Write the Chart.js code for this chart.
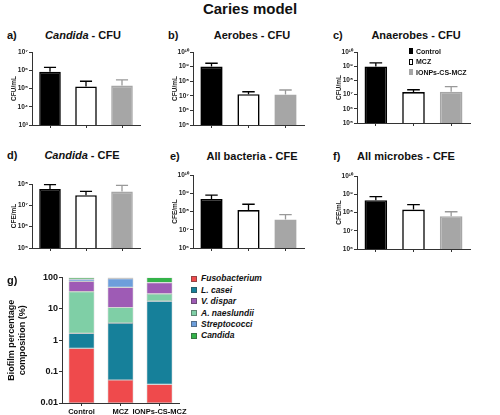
<!DOCTYPE html>
<html>
<head>
<meta charset="utf-8">
<script src="https://cdn.jsdelivr.net/npm/chart.js@4.4.1/dist/chart.umd.min.js"></script>
<style>
  html,body{margin:0;padding:0;background:#fff;}
  body{width:500px;height:415px;position:relative;overflow:hidden;font-family:"Liberation Sans",Arial,sans-serif;color:#111;}
  canvas{position:absolute;}
  .t{position:absolute;font-weight:bold;white-space:nowrap;line-height:1;}
  .leg{position:absolute;font-weight:bold;white-space:nowrap;line-height:1;}
  .leg .row{display:flex;align-items:center;}
  .leg .box{display:inline-block;box-sizing:border-box;}
</style>
</head>
<body>
<script>
// ---------------- DATA ----------------
const groups = ['Control', 'MCZ', 'IONPs-CS-MCZ'];

// panel a-f : bar height and upper end of the error bar
const candidaCFU      = [8.3e5, 1.3e5, 1.45e5];
const candidaCFUErr   = [1.45e6, 2.5e5, 3.0e5];
const aerobesCFU      = [1.0e9, 1.3e7, 1.25e7];
const aerobesCFUErr   = [1.7e9, 1.9e7, 2.5e7];
const anaerobesCFU    = [9.7e8, 1.5e7, 1.6e7];
const anaerobesCFUErr = [1.7e9, 2.2e7, 3.6e7];
const candidaCFE      = [5.8e7, 3.0e7, 4.4e7];
const candidaCFEErr   = [9.3e7, 4.5e7, 8.7e7];
const bacteriaCFE     = [4.9e8, 1.2e8, 3.7e7];
const bacteriaCFEErr  = [7.8e8, 2.5e8, 6.8e7];
const microbesCFE     = [4.7e8, 1.45e8, 6.3e7];
const microbesCFEErr  = [7.4e8, 2.7e8, 1.1e8];

// panel g : biofilm percentage composition (%), stacked bottom -> top
const fusobacterium = [0.55, 0.054, 0.039];
const lCasei        = [1.1, 3.45, 17.5];
const aNaeslundii   = [33.35, 7.5, 12.5];
const vDispar       = [40, 37, 38];
const streptococci  = [13, 43, 0.6];
const candidaPct    = [12, 9, 31.3];

const pctTicks = [0.01, 0.1, 1, 10, 100];
const pctTickLabels = ['0.01', '0.1', '1', '10', '100'];

// ---------------- STYLE ----------------
Chart.defaults.font.family = '"Liberation Sans", Arial, sans-serif';
Chart.defaults.color = '#222';
const AX = '#333';
const barFill = ['#000000', '#ffffff', '#a6a6a6'];
const barBorder = ['#000000', '#000000', '#a6a6a6'];
const errColor = ['#000000', '#000000', '#999999'];
const speciesColors = {
  'Fusobacterium': '#ef4a4c',
  'L. casei': '#16809a',
  'V. dispar': '#9e5bb5',
  'A. naeslundii': '#7fcfa6',
  'Streptococci': '#6d9edb',
  'Candida': '#34b34a'
};

const SUP = '⁰¹²³⁴⁵⁶⁷⁸⁹';
function supNum(n){ return String(n).split('').map(d => SUP[+d]).join(''); }
function powers(min, max){
  const out = [];
  for (let e = Math.round(Math.log10(min)); e <= Math.round(Math.log10(max)); e++) out.push(Math.pow(10, e));
  return out;
}

function addText(html, x, y, size, align, italic){
  const d = document.createElement('div');
  d.className = 't';
  d.innerHTML = html;
  d.style.fontSize = size + 'px';
  d.style.left = x + 'px';
  d.style.top = y + 'px';
  d.style.transform = align === 'center' ? 'translate(-50%,-50%)' : 'translate(0,-50%)';
  if (italic) d.style.fontStyle = 'italic';
  document.body.appendChild(d);
}

const errPlugin = {
  id: 'errbars',
  afterDatasetsDraw(chart, args, opts){
    if (!opts || !opts.errs) return;
    const meta = chart.getDatasetMeta(0);
    const ys = chart.scales.y;
    const ctx = chart.ctx;
    meta.data.forEach((el, i) => {
      const yTop = ys.getPixelForValue(opts.errs[i]);
      const half = el.width * 0.28;
      ctx.save();
      ctx.strokeStyle = opts.colors[i];
      ctx.lineWidth = 1.3;
      ctx.beginPath();
      ctx.moveTo(el.x, el.y);
      ctx.lineTo(el.x, yTop);
      ctx.moveTo(el.x - half, yTop);
      ctx.lineTo(el.x + half, yTop);
      ctx.stroke();
      ctx.restore();
    });
  }
};

function makeCanvas(left, top, w, h){
  const c = document.createElement('canvas');
  c.width = w; c.height = h;
  c.style.left = left + 'px'; c.style.top = top + 'px';
  c.style.width = w + 'px'; c.style.height = h + 'px';
  document.body.appendChild(c);
  return c;
}

// ---------------- PANELS a-f ----------------
const panels = [
  {vals: candidaCFU,   errs: candidaCFUErr,   min: 1e3, max: 1e7,  unit: 'CFU/mL', ax: 32,  top: 52,  bottom: 125, right: 140},
  {vals: aerobesCFU,   errs: aerobesCFUErr,   min: 1e5, max: 1e10, unit: 'CFU/mL', ax: 193, top: 52,  bottom: 125, right: 304},
  {vals: anaerobesCFU, errs: anaerobesCFUErr, min: 1e5, max: 1e10, unit: 'CFU/mL', ax: 357, top: 52,  bottom: 123, right: 470},
  {vals: candidaCFE,   errs: candidaCFEErr,   min: 1e5, max: 1e8,  unit: 'CFE/mL', ax: 32,  top: 184, bottom: 248, right: 140},
  {vals: bacteriaCFE,  errs: bacteriaCFEErr,  min: 1e6, max: 1e10, unit: 'CFE/mL', ax: 193, top: 175, bottom: 248, right: 304},
  {vals: microbesCFE,  errs: microbesCFEErr,  min: 1e6, max: 1e10, unit: 'CFE/mL', ax: 357, top: 176, bottom: 249, right: 470}
];

const YW = 22, PT = 6, XH = 5;
panels.forEach(p => {
  const w = p.right - p.ax + YW + 2;
  const h = p.bottom - p.top + PT + XH;
  const cv = makeCanvas(p.ax - YW, p.top - PT, w, h);
  const ticks = powers(p.min, p.max);
  new Chart(cv, {
    type: 'bar',
    data: {
      labels: groups,
      datasets: [{
        data: p.vals,
        backgroundColor: barFill,
        borderColor: barBorder,
        borderWidth: 1.6,
        categoryPercentage: 1,
        barPercentage: 0.6
      }]
    },
    options: {
      responsive: false,
      animation: false,
      devicePixelRatio: 1,
      layout: {padding: {top: PT, right: 2, left: 0, bottom: 0}},
      plugins: {legend: {display: false}, tooltip: {enabled: false}, errbars: {errs: p.errs, colors: errColor}},
      scales: {
        x: {
          afterFit: s => { s.height = XH; },
          ticks: {display: false},
          grid: {display: true, drawOnChartArea: false, offset: false, tickLength: 3, color: AX, lineWidth: 1},
          border: {display: true, color: AX, width: 1}
        },
        y: {
          type: 'logarithmic',
          min: p.min, max: p.max,
          afterFit: s => { s.width = YW; },
          afterBuildTicks: s => { s.ticks = ticks.map(v => ({value: v})); },
          ticks: {
            font: {size: 6.5, weight: 'bold'}, padding: 1, color: '#222',
            callback: v => '10' + supNum(Math.round(Math.log10(v)))
          },
          grid: {display: true, drawOnChartArea: false, tickLength: 3, color: AX, lineWidth: 1},
          border: {display: true, color: AX, width: 1},
          title: {display: true, text: p.unit, font: {size: 6.5, weight: 'bold'}, padding: {top: 0, bottom: 0}, color: '#222'}
        }
      }
    },
    plugins: [errPlugin]
  });
});

// ---------------- PANEL g ----------------
const stackOrder = [
  ['Fusobacterium', fusobacterium],
  ['L. casei', lCasei],
  ['A. naeslundii', aNaeslundii],
  ['V. dispar', vDispar],
  ['Streptococci', streptococci],
  ['Candida', candidaPct]
];
(function(){
  const ax = 62, top = 277, bottom = 403, right = 179;
  const YWg = 58, PTg = 6, XHg = 15;
  const cv = makeCanvas(ax - YWg, top - PTg, right - ax + YWg + 12, bottom - top + PTg + XHg);
  new Chart(cv, {
    type: 'bar',
    data: {
      labels: groups,
      datasets: stackOrder.map(([name, vals]) => ({
        label: name,
        data: vals,
        backgroundColor: speciesColors[name],
        borderColor: 'rgba(60,60,60,0.45)',
        borderWidth: 0.6,
        borderSkipped: false,
        categoryPercentage: 1,
        barPercentage: 0.66
      }))
    },
    options: {
      responsive: false,
      animation: false,
      devicePixelRatio: 1,
      layout: {padding: {top: PTg, right: 12, left: 0, bottom: 0}},
      plugins: {legend: {display: false}, tooltip: {enabled: false}},
      scales: {
        x: {
          stacked: true,
          afterFit: s => { s.height = XHg; },
          ticks: {font: {size: 7.5, weight: 'bold'}, padding: 1, maxRotation: 0, autoSkip: false, color: '#111'},
          grid: {display: true, drawOnChartArea: false, offset: false, tickLength: 3, color: AX, lineWidth: 1},
          border: {display: true, color: AX, width: 1}
        },
        y: {
          type: 'logarithmic',
          stacked: true,
          min: 0.01, max: 100,
          afterFit: s => { s.width = YWg; },
          afterBuildTicks: s => { s.ticks = pctTicks.map(v => ({value: v})); },
          ticks: {
            font: {size: 9, weight: 'bold'}, padding: 1, color: '#111',
            callback: (v) => pctTickLabels[pctTicks.indexOf(v)]
          },
          grid: {display: true, drawOnChartArea: false, tickLength: 3, color: AX, lineWidth: 1},
          border: {display: true, color: AX, width: 1},
          title: {display: true, text: ['Biofilm percentage', 'composition (%)'], font: {size: 9, weight: 'bold', lineHeight: 1.25}, padding: {top: 2, bottom: 0}, color: '#111'}
        }
      }
    }
  });
})();

// ---------------- TEXT ----------------
addText('Caries model', 250, 8, 15, 'center');
addText('a)', 7, 35, 11, 'left');
addText('<i>Candida</i> - CFU', 83, 35, 11, 'center');
addText('b)', 168, 35, 11, 'left');
addText('Aerobes - CFU', 252, 35, 11, 'center');
addText('c)', 333, 35, 11, 'left');
addText('Anaerobes - CFU', 416, 35, 11, 'center');
addText('d)', 7, 155, 11, 'left');
addText('<i>Candida</i> - CFE', 82, 155, 11, 'center');
addText('e)', 170, 156, 11, 'left');
addText('All bacteria - CFE', 252, 156, 11, 'center');
addText('f)', 333, 156, 11, 'left');
addText('All microbes - CFE', 406, 156, 11, 'center');
addText('g)', 7, 280, 11, 'left');

// legend for c
(function(){
  const lg = document.createElement('div');
  lg.className = 'leg';
  lg.style.left = '409px'; lg.style.top = '46px'; lg.style.fontSize = '7px';
  groups.forEach((g, i) => {
    const r = document.createElement('div'); r.className = 'row'; r.style.height = '10.5px';
    const b = document.createElement('span'); b.className = 'box';
    b.style.width = '4px'; b.style.height = '6px'; b.style.marginRight = '3px';
    b.style.background = barFill[i]; b.style.border = '1px solid ' + barBorder[i];
    const t = document.createElement('span'); t.textContent = g;
    r.appendChild(b); r.appendChild(t); lg.appendChild(r);
  });
  document.body.appendChild(lg);
})();

// legend for g
const legendOrder = ['Fusobacterium', 'L. casei', 'V. dispar', 'A. naeslundii', 'Streptococci', 'Candida'];
(function(){
  const lg = document.createElement('div');
  lg.className = 'leg';
  lg.style.left = '191px'; lg.style.top = '273px'; lg.style.fontSize = '8.5px'; lg.style.fontStyle = 'italic';
  legendOrder.forEach(name => {
    const r = document.createElement('div'); r.className = 'row'; r.style.height = '11.4px';
    const b = document.createElement('span'); b.className = 'box';
    b.style.width = '6px'; b.style.height = '6px'; b.style.marginRight = '4px';
    b.style.background = speciesColors[name]; b.style.border = '0.5px solid rgba(60,60,60,0.5)';
    const t = document.createElement('span'); t.textContent = name;
    r.appendChild(b); r.appendChild(t); lg.appendChild(r);
  });
  document.body.appendChild(lg);
})();
</script>
</body>
</html>
